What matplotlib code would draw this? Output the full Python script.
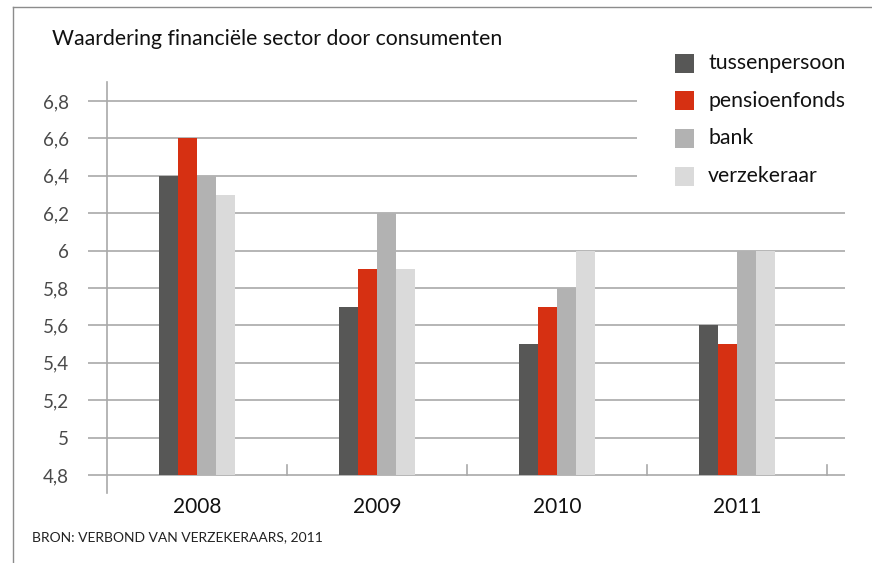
import numpy as np
import matplotlib
matplotlib.use('Agg')
import matplotlib.pyplot as plt
from matplotlib.patches import Rectangle
from matplotlib.lines import Line2D

# DATA
years = ['2008', '2009', '2010', '2011']
series = ['tussenpersoon', 'pensioenfonds', 'bank', 'verzekeraar']
tussenpersoon = [6.4, 5.7, 5.5, 5.6]
pensioenfonds = [6.6, 5.9, 5.7, 5.5]
bank = [6.4, 6.2, 5.8, 6.0]
verzekeraar = [6.3, 5.9, 6.0, 6.0]
values = [tussenpersoon, pensioenfonds, bank, verzekeraar]
yticks = [4.8, 5.0, 5.2, 5.4, 5.6, 5.8, 6.0, 6.2, 6.4, 6.6, 6.8]
ytick_labels = ['4,8', '5', '5,2', '5,4', '5,6', '5,8', '6', '6,2', '6,4', '6,6', '6,8']

colors = ['#575756', '#d63012', '#b2b2b2', '#dadada']
grid_c = '#a9a9a9'

plt.rcParams['font.family'] = ['Lato', 'DejaVu Sans']

W, H = 872, 563
fig = plt.figure(figsize=(W / 100, H / 100), dpi=100)

def px(x, y):
    # pixel coords (top-left origin) -> figure fraction
    return x / W, 1 - y / H

# axes: left spine at x=107, top 82, bottom 493, right 845
x0, y1 = px(107, 82)
x1, y0 = px(845, 493)
ax = fig.add_axes([x0, y0, x1 - x0, y1 - y0])

base = 4.8
bw = 0.1056
x = np.arange(len(years))
for i, (vals, c) in enumerate(zip(values, colors)):
    ax.bar(x + (i - 1.5) * bw, np.array(vals) - base, bw, bottom=base,
           color=c, zorder=3, linewidth=0)

ax.set_xlim(-0.5, 3.6)
ax.set_ylim(4.704, 6.902)

# horizontal grid + outward ticks
ax.set_yticks(yticks)
ax.set_yticklabels(ytick_labels)
ax.yaxis.grid(True, color=grid_c, linewidth=1.2, zorder=1)
ax.set_axisbelow(True)
ax.tick_params(axis='y', length=13.5, width=1.2, color=grid_c, pad=14,
               labelsize=13.5, labelcolor='#4a4a4a')

# category labels
ax.set_xticks(x)
ax.set_xticklabels(years)
ax.tick_params(axis='x', length=0, pad=3, labelsize=15, labelcolor='#111111')

# small category separators sitting on the baseline
for xt in np.arange(0.5, 4.0, 1.0):
    ax.plot([xt, xt], [base, base + 0.052], color=grid_c, lw=1.2, zorder=2)

for s in ['top', 'right', 'bottom']:
    ax.spines[s].set_visible(False)
ax.spines['left'].set_color(grid_c)
ax.spines['left'].set_linewidth(1.2)

# white area behind legend hides upper gridlines
lx, ly = px(637, 40)
rx, ry = px(872, 196)
fig.patches.append(Rectangle((lx, ry), rx - lx, ly - ry, transform=fig.transFigure,
                             facecolor='white', edgecolor='none', zorder=1))

# legend
for i, (name, c) in enumerate(zip(series, colors)):
    cy = 63 + i * 37.7
    bx, by = px(675, cy + 9.5)
    fig.patches.append(Rectangle((bx, by), 19 / W, 19 / H, transform=fig.transFigure,
                                 facecolor=c, edgecolor='none', zorder=2))
    tx, ty = px(708, cy)
    fig.text(tx, ty, name, fontsize=15.3, color='#111111', va='center', ha='left', zorder=2)

# title and source
tx, ty = px(52, 39)
fig.text(tx, ty, 'Waardering financiële sector door consumenten', fontsize=15.3,
         color='#111111', va='center', ha='left')
tx, ty = px(32, 537)
fig.text(tx, ty, 'BRON: VERBOND VAN VERZEKERAARS, 2011', fontsize=10,
         color='#222222', va='center', ha='left')

# frame lines
fig.add_artist(Line2D([13 / W, 13 / W], [0, 1 - 7 / H], color='#8c8c8c', lw=1,
                      transform=fig.transFigure))
fig.add_artist(Line2D([13 / W, 1], [1 - 7 / H, 1 - 7 / H], color='#8c8c8c', lw=1,
                      transform=fig.transFigure))

fig.savefig('out.png', dpi=100)
